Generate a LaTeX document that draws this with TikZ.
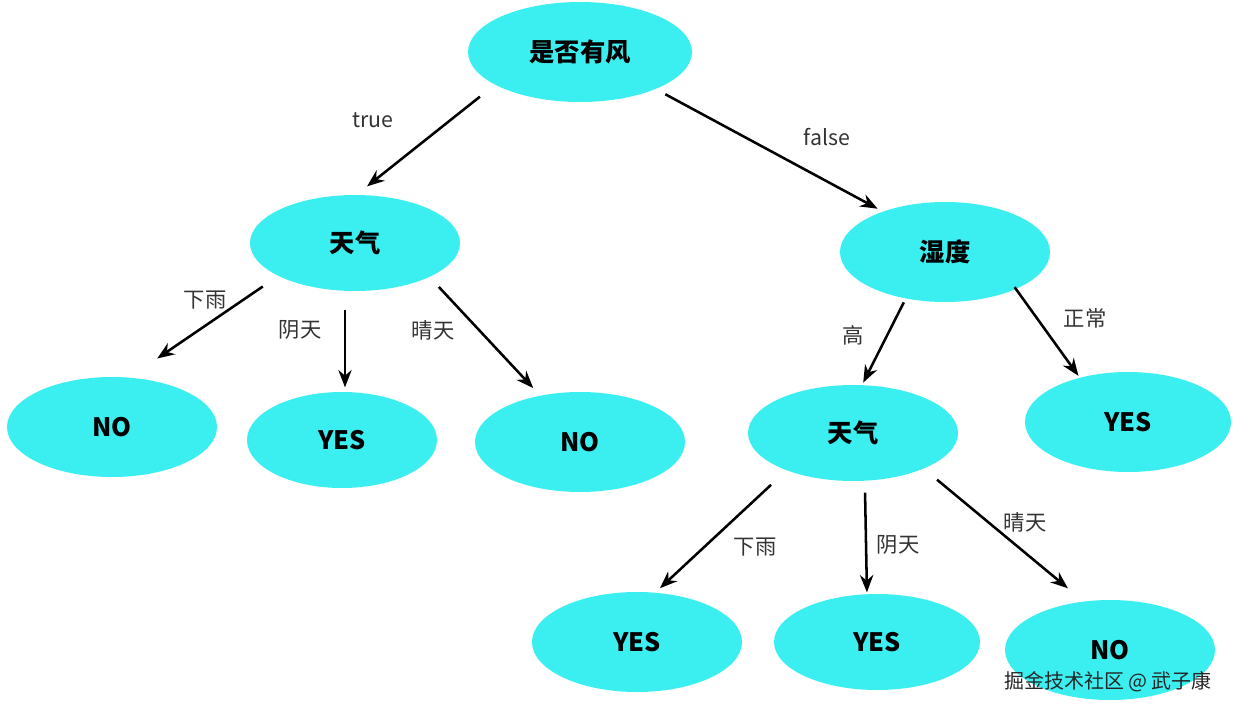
\documentclass[tikz,border=0pt]{standalone}
\usepackage{fontspec}
\setmainfont{Noto Sans CJK SC}
\usetikzlibrary{shapes.geometric,arrows.meta}
\definecolor{cy}{HTML}{3BEFF0}
\begin{document}
\begin{tikzpicture}[x=0.75pt,y=-0.75pt,
  nd/.style 2 args={ellipse,fill=cy,inner sep=0pt,minimum width=#1*0.75pt,minimum height=#2*0.75pt,font=\fontsize{19}{22}\selectfont\bfseries},
  ar/.style={-{Stealth[length=13pt,width=10pt]},line width=1.9pt,shorten <=2pt,shorten >=2pt},
  lb/.style={font=\fontsize{16}{18}\selectfont,text=black!80}]
\useasboundingbox (0,0) rectangle (1260,714);
\node[nd={224}{100}] (r) at (580,52) {是否有风};
\node[nd={210}{96}] (t1) at (355,243) {天气};
\node[nd={210}{100}] (h) at (945,252) {湿度};
\node[nd={210}{100}] (n1) at (112,427) {NO};
\node[nd={190}{96}] (y1) at (342,440) {YES};
\node[nd={210}{100}] (n2) at (580,442) {NO};
\node[nd={210}{96}] (t2) at (853,433) {天气};
\node[nd={206}{100}] (y2) at (1128,422) {YES};
\node[nd={210}{100}] (y3) at (637,642) {YES};
\node[nd={206}{96}] (y4) at (877,642) {YES};
\node[nd={210}{100}] (n3) at (1110,650) {NO};
\coordinate (a1) at (482,95); \coordinate (b1) at (365,188);
\coordinate (a2) at (663,93); \coordinate (b2) at (880,210);
\coordinate (a3) at (265,285); \coordinate (b3) at (155,360);
\coordinate (a4) at (345,307); \coordinate (b4) at (345,390);
\coordinate (a5) at (437,285); \coordinate (b5) at (535,390);
\coordinate (a6) at (905,300); \coordinate (b6) at (862,385);
\coordinate (a7) at (1013,285); \coordinate (b7) at (1080,378);
\coordinate (a8) at (773,483); \coordinate (b8) at (658,590);
\coordinate (a9) at (865,490); \coordinate (b9) at (867,595);
\coordinate (a10) at (935,478); \coordinate (b10) at (1070,590);
\foreach \i in {1,...,10} \draw[ar] (a\i) -- (b\i);
\node[lb] (l1) at (373,120) {true};
\node[lb] (l2) at (827,137) {false};
\node[lb] (l3) at (205,300) {下雨};
\node[lb] (l4) at (300,330) {阴天};
\node[lb] (l5) at (433,330) {晴天};
\node[lb] (l6) at (853,335) {高};
\node[lb] (l7) at (1085,318) {正常};
\node[lb] (l8) at (755,547) {下雨};
\node[lb] (l9) at (898,545) {阴天};
\node[lb] (l10) at (1025,522) {晴天};
\node[font=\fontsize{15}{17}\selectfont,text=black!85] (wm) at (1108,682) {掘金技术社区 @ 武子康};
\end{tikzpicture}
\end{document}
